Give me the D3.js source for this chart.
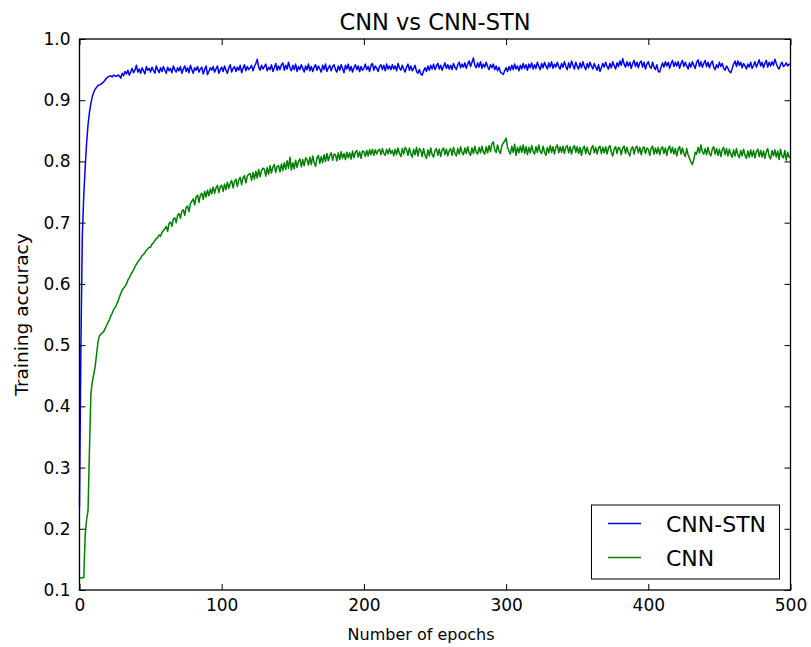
<!DOCTYPE html>
<html><head><meta charset="utf-8">
<script src="https://cdn.jsdelivr.net/npm/d3@7"></script>
<style>body{margin:0;background:#fff}text{font-family:"DejaVu Sans",sans-serif;fill:#000}</style>
</head><body>
<svg id="c" width="811" height="647"></svg>
<script>
const title = "CNN vs CNN-STN";
const xLabel = "Number of epochs";
const yLabel = "Training accuracy";
const seriesNames = ["CNN-STN", "CNN"];
const seriesColors = ["#0000ff", "#008000"];
const xTicks = [0, 100, 200, 300, 400, 500];
const yTicks = [0.1, 0.2, 0.3, 0.4, 0.5, 0.6, 0.7, 0.8, 0.9, 1.0];

// CNN-STN accuracy per epoch (0..500)
const cnnStn = [
.236,.500,.680,.745,.790,.830,.860,.880,.895,.906,
.913,.918,.921,.924,.925,.926,.928,.930,.933,.936,
.938,.939,.940,.938,.941,.940,.939,.941,.940,.936,
.944,.940,.947,.943,.949,.941,.946,.952,.945,.949,
.957,.946,.951,.944,.953,.948,.943,.955,.949,.952,
.946,.954,.949,.944,.956,.950,.945,.953,.947,.955,
.949,.944,.954,.948,.952,.945,.956,.950,.946,.953,
.948,.955,.944,.951,.956,.947,.953,.945,.957,.950,
.944,.953,.949,.955,.946,.951,.954,.943,.950,.956,
.942,.947,.953,.949,.955,.946,.951,.956,.944,.950,
.954,.947,.956,.949,.944,.953,.958,.946,.952,.955,
.947,.954,.949,.957,.945,.952,.958,.948,.955,.950,
.953,.957,.948,.955,.960,.967,.954,.949,.957,.951,
.955,.959,.948,.954,.950,.958,.947,.953,.960,.949,
.956,.950,.958,.961,.949,.957,.951,.962,.953,.948,
.957,.950,.959,.947,.955,.950,.958,.952,.946,.956,
.950,.959,.948,.955,.947,.954,.958,.949,.956,.951,
.946,.957,.950,.959,.947,.953,.957,.948,.955,.958,
.950,.946,.956,.949,.958,.952,.945,.957,.951,.959,
.948,.955,.946,.953,.958,.950,.956,.947,.955,.949,
.952,.959,.950,.955,.947,.957,.960,.949,.956,.952,
.947,.955,.958,.950,.957,.948,.959,.951,.956,.950,
.958,.951,.956,.948,.960,.953,.949,.957,.951,.946,
.954,.959,.949,.956,.948,.952,.957,.947,.944,.950,
.943,.941,.948,.953,.947,.956,.949,.957,.951,.959,
.950,.956,.960,.951,.957,.949,.955,.961,.952,.958,
.951,.957,.950,.960,.954,.950,.958,.962,.953,.959,
.954,.961,.952,.959,.964,.955,.962,.969,.957,.953,
.961,.954,.963,.952,.959,.954,.962,.955,.950,.958,
.953,.959,.950,.956,.948,.954,.946,.944,.942,.948,
.953,.947,.955,.949,.957,.950,.959,.951,.956,.948,
.957,.951,.960,.952,.958,.949,.959,.953,.961,.951,
.958,.952,.962,.955,.950,.960,.953,.962,.956,.951,
.961,.954,.963,.952,.959,.954,.962,.955,.951,.960,
.954,.963,.955,.950,.961,.953,.964,.957,.951,.962,
.955,.951,.961,.953,.963,.955,.950,.960,.953,.962,
.956,.951,.960,.954,.949,.958,.947,.953,.960,.954,
.962,.955,.951,.960,.953,.963,.956,.951,.961,.955,
.964,.957,.968,.959,.954,.963,.956,.962,.952,.960,
.965,.955,.962,.953,.961,.964,.954,.962,.951,.959,
.963,.955,.952,.962,.954,.950,.958,.947,.946,.954,
.961,.954,.963,.956,.962,.952,.960,.965,.955,.962,
.956,.963,.952,.960,.965,.955,.962,.956,.951,.961,
.954,.963,.957,.952,.962,.966,.955,.963,.954,.960,
.965,.955,.962,.953,.960,.964,.954,.950,.958,.953,
.962,.955,.960,.952,.949,.956,.952,.947,.945,.952,
.959,.964,.955,.964,.957,.962,.953,.960,.956,.951,
.959,.954,.962,.952,.957,.963,.954,.960,.966,.956,
.962,.953,.960,.965,.954,.962,.956,.963,.957,.967,
.960,.954,.951,.958,.962,.955,.957,.961,.956,.959,
.958];

// CNN accuracy per epoch (0..500)
const cnn = [
.120,.120,.120,.120,.190,.215,.230,.330,.420,.440,
.452,.465,.485,.505,.515,.518,.520,.522,.527,.532,
.537,.541,.548,.552,.558,.561,.566,.571,.578,.584,
.590,.593,.596,.600,.606,.610,.615,.619,.623,.628,
.632,.636,.639,.642,.646,.648,.651,.655,.657,.660,
.660,.665,.667,.671,.674,.676,.680,.678,.684,.687,
.690,.694,.686,.699,.701,.694,.706,.708,.700,.712,
.715,.707,.719,.721,.712,.725,.727,.718,.731,.735,
.739,.729,.742,.745,.733,.745,.748,.738,.751,.742,
.753,.744,.755,.747,.758,.748,.757,.761,.749,.759,
.761,.751,.763,.754,.766,.756,.764,.769,.757,.767,
.771,.759,.770,.774,.762,.773,.777,.765,.776,.779,
.780,.769,.782,.771,.784,.773,.787,.775,.785,.789,
.787,.776,.790,.779,.793,.781,.791,.795,.782,.792,
.793,.783,.796,.785,.798,.787,.801,.789,.807,.786,
.798,.788,.802,.790,.800,.804,.791,.803,.793,.806,
.803,.794,.807,.795,.809,.798,.792,.806,.810,.797,
.808,.798,.811,.800,.813,.801,.810,.814,.802,.812,
.811,.801,.814,.803,.816,.805,.813,.803,.815,.806,
.814,.804,.817,.806,.815,.818,.807,.816,.805,.817,
.816,.808,.818,.809,.819,.811,.820,.810,.819,.812,
.818,.820,.811,.821,.813,.810,.820,.812,.821,.813,
.818,.809,.820,.811,.822,.813,.808,.821,.812,.823,
.819,.810,.822,.812,.807,.820,.811,.823,.809,.821,
.818,.808,.821,.810,.805,.819,.809,.822,.811,.807,
.818,.821,.810,.820,.808,.819,.822,.811,.820,.809,
.818,.821,.810,.823,.813,.809,.821,.812,.824,.814,
.811,.822,.813,.824,.814,.810,.822,.813,.825,.815,
.812,.823,.814,.825,.815,.812,.824,.814,.826,.816,
.829,.832,.819,.815,.827,.817,.813,.826,.830,.833,
.838,.823,.817,.812,.825,.815,.828,.810,.823,.814,
.825,.815,.827,.813,.824,.811,.823,.814,.826,.816,
.812,.824,.815,.827,.816,.813,.825,.815,.810,.823,
.814,.826,.815,.824,.812,.823,.827,.814,.824,.815,
.825,.813,.823,.826,.814,.824,.812,.822,.826,.815,
.824,.813,.823,.810,.821,.825,.813,.823,.814,.811,
.822,.826,.814,.823,.812,.822,.825,.813,.823,.814,
.824,.812,.822,.826,.815,.809,.820,.824,.813,.823,
.821,.811,.822,.825,.813,.823,.814,.809,.821,.824,
.812,.822,.825,.814,.823,.811,.821,.824,.813,.822,
.820,.810,.821,.825,.812,.822,.813,.823,.811,.821,
.824,.813,.822,.810,.821,.825,.814,.823,.812,.821,
.809,.820,.824,.812,.822,.813,.808,.821,.811,.805,
.799,.795,.803,.815,.812,.823,.814,.827,.816,.812,
.821,.811,.823,.813,.809,.820,.824,.812,.821,.810,
.820,.808,.819,.823,.811,.821,.809,.820,.812,.807,
.819,.809,.821,.811,.806,.818,.809,.820,.810,.805,
.817,.807,.819,.808,.818,.806,.816,.820,.808,.818,
.807,.817,.805,.816,.821,.808,.804,.818,.809,.819,
.807,.817,.803,.820,.809,.806,.818,.802,.815,.807,
.808];

const series = [cnnStn, cnn];

const svg = d3.select("#c");
const L = 79.5, R = 790.5, T = 39, B = 590;
const x = d3.scaleLinear().domain([0, 500]).range([L, R]);
const y = d3.scaleLinear().domain([0.1, 1.0]).range([B, T]);

// lines
const line = d3.line().x((d, i) => x(i)).y(d => y(d));
series.forEach((s, k) => {
  svg.append("path").datum(s)
    .attr("fill", "none").attr("stroke", seriesColors[k])
    .attr("stroke-width", 1.5).attr("stroke-linejoin", "round")
    .attr("d", line);
});

// axes
const fmtY = d3.format(".1f");
const gB = svg.append("g").attr("transform", `translate(0,${B})`)
  .call(d3.axisBottom(x).tickValues(xTicks).tickSizeInner(-6).tickSizeOuter(0).tickPadding(9).tickFormat(d3.format("d")));
const gT = svg.append("g").attr("transform", `translate(0,${T})`)
  .call(d3.axisTop(x).tickValues(xTicks).tickSizeInner(-6).tickSizeOuter(0).tickFormat(""));
const gL = svg.append("g").attr("transform", `translate(${L},0)`)
  .call(d3.axisLeft(y).tickValues(yTicks).tickSizeInner(-6).tickSizeOuter(0).tickPadding(9).tickFormat(fmtY));
const gR = svg.append("g").attr("transform", `translate(${R},0)`)
  .call(d3.axisRight(y).tickValues(yTicks).tickSizeInner(-6).tickSizeOuter(0).tickFormat(""));
[gB, gT, gL, gR].forEach(g => {
  g.select(".domain").remove();
  g.selectAll(".tick line").attr("stroke", "#000").attr("stroke-width", 1);
  g.selectAll(".tick text").attr("font-family", "DejaVu Sans").attr("font-size", 17).attr("fill", "#000");
});

// frame
svg.append("rect").attr("x", L).attr("y", T).attr("width", R - L).attr("height", B - T)
  .attr("fill", "none").attr("stroke", "#000").attr("stroke-width", 1.3);

// title and labels
svg.append("text").attr("x", (L + R) / 2).attr("y", 30).attr("text-anchor", "middle")
  .attr("font-size", 22.5).text(title);
svg.append("text").attr("x", 421).attr("y", 640).attr("text-anchor", "middle")
  .attr("font-size", 16).text(xLabel);
svg.append("text").attr("transform", `translate(28,${(T + B) / 2}) rotate(-90)`)
  .attr("text-anchor", "middle").attr("font-size", 18.5).text(yLabel);

// legend
const lg = svg.append("g");
lg.append("rect").attr("x", 591.5).attr("y", 505).attr("width", 188).attr("height", 74)
  .attr("fill", "#fff").attr("stroke", "#000").attr("stroke-width", 1);
seriesNames.forEach((n, k) => {
  const yy = 523.5 + k * 34;
  lg.append("line").attr("x1", 608).attr("x2", 641).attr("y1", yy).attr("y2", yy)
    .attr("stroke", seriesColors[k]).attr("stroke-width", 1.4);
  lg.append("text").attr("x", 666).attr("y", yy + 8).attr("font-size", 22).text(n);
});
</script>
</body></html>
